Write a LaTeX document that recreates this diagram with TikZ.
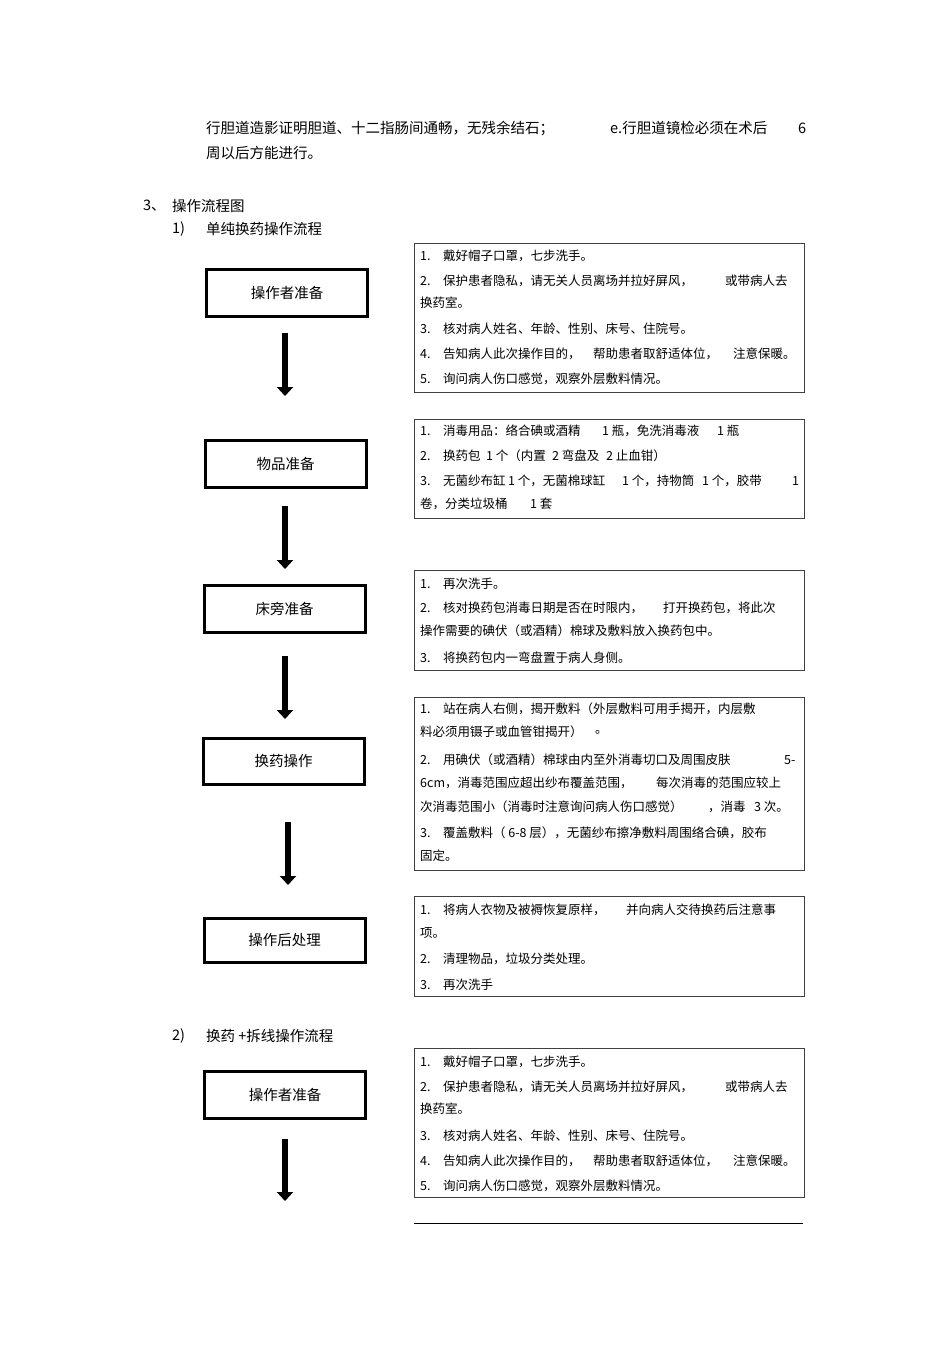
\documentclass[tikz,border=0pt]{standalone}
\usepackage{fontspec}
\setmainfont{Noto Sans CJK SC}
\usetikzlibrary{arrows.meta}

\begin{document}
\begin{tikzpicture}[x=1pt,y=-1pt]
    \tikzset{%
      stepbox/.style={draw, line width=3pt, minimum width=161pt,
        minimum height=47pt, inner sep=0pt,
        font=\fontsize{14.5}{17}\selectfont},
      notebox/.style={draw=black!75, line width=1.1pt, anchor=north west,
        minimum width=390pt, inner sep=0pt},
      note/.style={anchor=west, inner sep=0pt,
        font=\fontsize{12.5}{15}\selectfont},
      body/.style={anchor=west, inner sep=0pt,
        font=\fontsize{14.5}{17}\selectfont},
      flowarrow/.style={line width=6pt, -{Triangle[length=9pt,width=16pt]}},
    }
    \fill[white] (0,0) rectangle (950,1345);

    % running text
    \node[body] (t1) at (206,128) {行胆道造影证明胆道、十二指肠间通畅，无残余结石；};
    \node[body] (t1b) at (610,128) {e.行胆道镜检必须在术后};
    \node[body] (t1c) at (798,128) {6};
    \node[body] (t2) at (206,153) {周以后方能进行。};
    \node[body] (h3) at (143,206) {3、};
    \node[body] (h3b) at (172,206) {操作流程图};
    \node[body] (h31) at (172,229) {1)};
    \node[body] (h31b) at (206,229) {单纯换药操作流程};
    \node[body] (h32) at (172,1036) {2)};
    \node[body] (h32b) at (206,1036) {换药 +拆线操作流程};

    % steps
    \node[stepbox] (prep) at (287,293) {操作者准备};
    \node[stepbox] (goods) at (285.5,463.5) {物品准备};
    \node[stepbox] (bedside) at (284.5,609) {床旁准备};
    \node[stepbox, minimum height=46pt] (change) at (283.5,761) {换药操作};
    \node[stepbox, minimum height=44pt] (after) at (284.5,940) {操作后处理};
    \node[stepbox] (prepb) at (285,1095) {操作者准备};

    \coordinate (a1s) at (285,333);
    \coordinate (a1e) at (285,396);
    \draw[flowarrow] (a1s) -- (a1e);
    \coordinate (a2s) at (285,506);
    \coordinate (a2e) at (285,569);
    \draw[flowarrow] (a2s) -- (a2e);
    \coordinate (a3s) at (285,656);
    \coordinate (a3e) at (285,719);
    \draw[flowarrow] (a3s) -- (a3e);
    \coordinate (a4s) at (288,822);
    \coordinate (a4e) at (288,885);
    \draw[flowarrow] (a4s) -- (a4e);
    \coordinate (a6s) at (285,1139);
    \coordinate (a6e) at (285,1201);
    \draw[flowarrow] (a6s) -- (a6e);

    % notes: operator
    \node[notebox, minimum height=149pt] (n1) at (413.5,242.5) {};
    \node[note] (n1a) at (420,256) {1.\quad 戴好帽子口罩，七步洗手。};
    \node[note] (n1b) at (420,281) {2.\quad 保护患者隐私，请无关人员离场并拉好屏风，};
    \node[note] (n1b2) at (725,281) {或带病人去};
    \node[note] (n1c) at (420,303) {换药室。};
    \node[note] (n1d) at (420,329) {3.\quad 核对病人姓名、年龄、性别、床号、住院号。};
    \node[note] (n1e) at (420,354) {4.\quad 告知病人此次操作目的，};
    \node[note] (n1e2) at (593,354) {帮助患者取舒适体位，};
    \node[note] (n1e3) at (733,354) {注意保暖。};
    \node[note] (n1f) at (420,379) {5.\quad 询问病人伤口感觉，观察外层敷料情况。};

    % notes: goods
    \node[notebox, minimum height=99pt] (n2) at (413.5,419) {};
    \node[note] (n2a) at (420,431) {1.\quad 消毒用品：络合碘或酒精};
    \node[note] (n2a2) at (602,431) {1 瓶，免洗消毒液};
    \node[note] (n2a3) at (717,431) {1 瓶};
    \node[note] (n2b) at (420,456) {2.\quad 换药包};
    \node[note] (n2b2) at (486,456) {1 个（内置};
    \node[note] (n2b3) at (552,456) {2 弯盘及};
    \node[note] (n2b4) at (606,456) {2 止血钳）};
    \node[note] (n2c) at (420,481) {3.\quad 无菌纱布缸};
    \node[note] (n2c2) at (508,481) {1 个，无菌棉球缸};
    \node[note] (n2c3) at (622,481) {1 个，持物筒};
    \node[note] (n2c4) at (702,481) {1 个，胶带};
    \node[note] (n2c5) at (792,481) {1};
    \node[note] (n2d) at (420,504) {卷，分类垃圾桶};
    \node[note] (n2d2) at (530,504) {1 套};

    % notes: bedside
    \node[notebox, minimum height=100pt] (n3) at (413.5,570) {};
    \node[note] (n3a) at (420,584) {1.\quad 再次洗手。};
    \node[note] (n3b) at (420,608) {2.\quad 核对换药包消毒日期是否在时限内，};
    \node[note] (n3b2) at (663,608) {打开换药包，将此次};
    \node[note] (n3c) at (420,631) {操作需要的碘伏（或酒精）棉球及敷料放入换药包中。};
    \node[note] (n3d) at (420,658) {3.\quad 将换药包内一弯盘置于病人身侧。};

    % notes: change
    \node[notebox, minimum height=173pt] (n4) at (413.5,697) {};
    \node[note] (n4a) at (420,709) {1.\quad 站在病人右侧，揭开敷料（外层敷料可用手揭开，内层敷};
    \node[note] (n4b) at (420,732) {料必须用镊子或血管钳揭开）};
    \node[note] (n4b2) at (595,732) {。};
    \node[note] (n4c) at (420,760) {2.\quad 用碘伏（或酒精）棉球由内至外消毒切口及周围皮肤};
    \node[note] (n4c2) at (784,760) {5-};
    \node[note] (n4d) at (420,783) {6cm，消毒范围应超出纱布覆盖范围，};
    \node[note] (n4d2) at (656,783) {每次消毒的范围应较上};
    \node[note] (n4e) at (420,807) {次消毒范围小（消毒时注意询问病人伤口感觉）};
    \node[note] (n4e2) at (708,807) {，消毒};
    \node[note] (n4e3) at (754,807) {3 次。};
    \node[note] (n4f) at (420,833) {3.\quad 覆盖敷料（ 6-8 层），无菌纱布擦净敷料周围络合碘，胶布};
    \node[note] (n4g) at (420,856) {固定。};

    % notes: after
    \node[notebox, minimum height=100pt] (n5) at (413.5,896) {};
    \node[note] (n5a) at (420,910) {1.\quad 将病人衣物及被褥恢复原样，};
    \node[note] (n5a2) at (626,910) {并向病人交待换药后注意事};
    \node[note] (n5b) at (420,933) {项。};
    \node[note] (n5c) at (420,959) {2.\quad 清理物品，垃圾分类处理。};
    \node[note] (n5d) at (420,985) {3.\quad 再次洗手};

    % notes: operator (second flow)
    \node[notebox, minimum height=149pt] (n6) at (413.5,1048) {};
    \node[note] (n6a) at (420,1062) {1.\quad 戴好帽子口罩，七步洗手。};
    \node[note] (n6b) at (420,1087) {2.\quad 保护患者隐私，请无关人员离场并拉好屏风，};
    \node[note] (n6b2) at (725,1087) {或带病人去};
    \node[note] (n6c) at (420,1109) {换药室。};
    \node[note] (n6d) at (420,1136) {3.\quad 核对病人姓名、年龄、性别、床号、住院号。};
    \node[note] (n6e) at (420,1161) {4.\quad 告知病人此次操作目的，};
    \node[note] (n6e2) at (593,1161) {帮助患者取舒适体位，};
    \node[note] (n6e3) at (733,1161) {注意保暖。};
    \node[note] (n6f) at (420,1186) {5.\quad 询问病人伤口感觉，观察外层敷料情况。};

    \coordinate (rule1) at (414,1223);
    \coordinate (rule2) at (803,1223);
    \draw[line width=1pt] (rule1) -- (rule2);
  \end{tikzpicture}
\end{document}
